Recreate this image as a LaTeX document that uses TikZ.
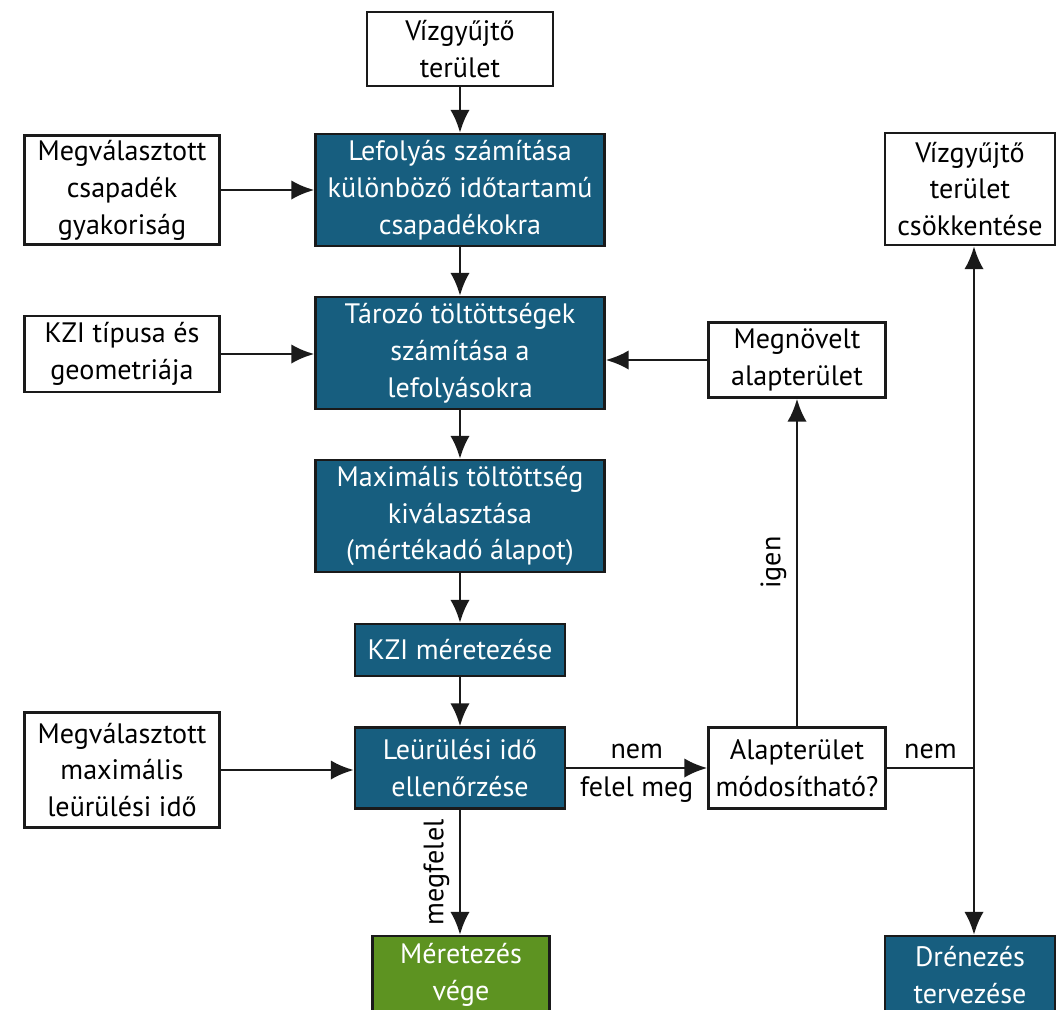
\documentclass[tikz,border=0pt]{standalone}
\usepackage{fontspec}
\setmainfont{PT Sans}
\usetikzlibrary{arrows.meta}
\definecolor{ink}{HTML}{1A1A1A}
\definecolor{deepblue}{HTML}{175E7F}
\definecolor{leaf}{HTML}{5D9321}

\begin{document}
\begin{tikzpicture}[x=0.02cm,y=-0.02cm,
    font=\fontsize{16}{21}\selectfont,
    >={Latex[length=13pt,width=11pt]},
    every path/.style={line width=1.45pt},
    whitebox/.style={draw=ink,fill=white,align=center,inner sep=0pt},
    bluebox/.style={whitebox,fill=deepblue,text=white},
    greenbox/.style={whitebox,fill=leaf,text=white},
    flow/.style={->,draw=ink}]
  \useasboundingbox (0,0) rectangle (1058,1009);

  % input boxes
  \node[whitebox,minimum width=186*0.02cm,minimum height=74*0.02cm]
    (catch) at (460,49) {Vízgyűjtő\\terület};
  \node[whitebox,minimum width=195*0.02cm,minimum height=109*0.02cm]
    (rain) at (122,190) {Megválasztott\\csapadék\\gyakoriság};
  \node[whitebox,minimum width=195*0.02cm,minimum height=76*0.02cm]
    (type) at (122,354) {KZI típusa és\\geometriája};
  \node[whitebox,minimum width=195*0.02cm,minimum height=115*0.02cm]
    (tmax) at (122,770) {Megválasztott\\maximális\\leürülési idő};

  % main chain
  \node[bluebox,minimum width=289*0.02cm,minimum height=112*0.02cm]
    (runoff) at (460,190) {Lefolyás számítása\\különböző időtartamú\\csapadékokra};
  \node[bluebox,minimum width=289*0.02cm,minimum height=112*0.02cm]
    (fill) at (460,353) {Tározó töltöttségek\\számítása a\\lefolyásokra};
  \node[bluebox,minimum width=289*0.02cm,minimum height=112*0.02cm]
    (maxfill) at (460,516) {Maximális töltöttség\\kiválasztása\\(mértékadó álapot)};
  \node[bluebox,minimum width=210*0.02cm,minimum height=52*0.02cm]
    (size) at (460,650) {KZI méretezése};
  \node[bluebox,minimum width=210*0.02cm,minimum height=81*0.02cm]
    (empty) at (460,768) {Leürülési idő\\ellenőrzése};
  \node[greenbox,minimum width=177*0.02cm,minimum height=78*0.02cm]
    (done) at (461,975) {Méretezés\\vége};

  % right branch
  \node[whitebox,minimum width=177*0.02cm,minimum height=81*0.02cm]
    (area) at (797,768) {Alapterület\\módosítható?};
  \node[whitebox,minimum width=177*0.02cm,minimum height=75*0.02cm]
    (bigger) at (797,360) {Megnövelt\\alapterület};
  \node[whitebox,minimum width=170*0.02cm,minimum height=112*0.02cm]
    (smaller) at (970,189) {Vízgyűjtő\\terület\\csökkentése};
  \node[bluebox,minimum width=170*0.02cm,minimum height=78*0.02cm]
    (drain) at (970,975) {Drénezés\\tervezése};
  \coordinate (split) at (974,768);

  % connectors
  \draw[flow] (catch) -- (runoff);
  \draw[flow] (rain) -- (runoff);
  \draw[flow] (runoff) -- (fill);
  \draw[flow] (type) -- (type -| fill.west);
  \draw[flow] (bigger) -- (bigger -| fill.east);
  \draw[flow] (fill) -- (maxfill);
  \draw[flow] (maxfill) -- (size);
  \draw[flow] (size) -- (empty);
  \draw[flow] (tmax) -- (tmax -| empty.west);
  \draw[flow] (empty) -- node[above=1pt] {nem} node[below=1pt] {felel meg} (area);
  \draw[flow] (area) -- node[rotate=90,above=2pt,pos=0.5] {igen} (bigger);
  \draw[flow] (empty) -- node[rotate=90,above=2pt] {megfelel} (empty |- done.north);
  \draw[draw=ink] (area) -- node[above=1pt] {nem} (split);
  \draw[flow] (split) -- (split |- smaller.south);
  \draw[flow] (split) -- (split |- drain.north);
\end{tikzpicture}
\end{document}
